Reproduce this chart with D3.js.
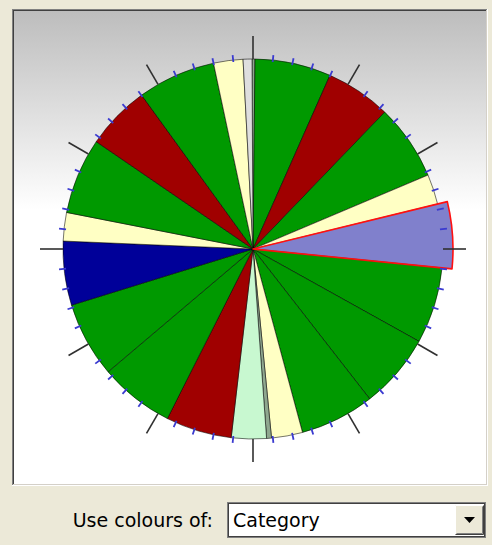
<!DOCTYPE html>
<html>
<head>
<meta charset="utf-8">
<script src="https://cdn.jsdelivr.net/npm/d3@7"></script>
<style>
  html, body { margin: 0; padding: 0; background: #ece9d8; }
  svg { display: block; }
</style>
</head>
<body>
<script>
(function(){

	//slice sizes in degrees, clockwise from just left of 12 o'clock
	var sliceValues = [0.9, 23.3, 20.0, 23.2, 9.2, 19.4, 23.4, 23.0, 22.8, 9.5, 1.5,
		10.7, 20.2, 22.9, 23.1, 19.6, 8.7, 23.3, 19.7, 23.9, 9.0, 2.7];
	//category of each slice
	var sliceCategories = ["F", "A", "B", "A", "C", "D", "A", "A", "A", "C", "F",
		"E", "B", "A", "A", "D", "C", "A", "B", "A", "C", "G"];
	var categories = ["A", "B", "C", "D", "E", "F", "G"];
	var categoryColours = ["#009900", "#a00000", "#ffffc4", "#000099", "#c8f8d0", "#8fa78f", "#dedede"];
	//the highlighted slice
	var selectedIndex = 5;
	var startDeg = -0.3;

	//ticks every 6 degrees, long ones every 30
	var majorTicks = d3.range(0, 360, 30);
	var minorTicks = d3.range(0, 360, 6).filter(function(a){ return a % 30 != 0; });

	var width = 492, height = 545;
	var cx = 253, cy = 249, radius = 190;

	var svg = d3.select("body")
		.append("svg")
		.attr("width", width)
		.attr("height", height);

	var defs = svg.append("defs");
	var grad = defs.append("linearGradient")
		.attr("id", "bg")
		.attr("x1", 0).attr("y1", 0).attr("x2", 0).attr("y2", 1);
	grad.append("stop").attr("offset", "0").attr("stop-color", "#bdbdbd");
	grad.append("stop").attr("offset", "0.42").attr("stop-color", "#ffffff");
	grad.append("stop").attr("offset", "1").attr("stop-color", "#ffffff");

	//sunken frame round the plot
	svg.append("rect").attr("x", 12).attr("y", 9).attr("width", 476).attr("height", 477)
		.attr("fill", "#ffffff");
	svg.append("rect").attr("x", 12).attr("y", 9).attr("width", 475).attr("height", 476)
		.attr("fill", "#808080");
	svg.append("rect").attr("x", 13).attr("y", 10).attr("width", 474).attr("height", 475)
		.attr("fill", "#d4d0c8");
	svg.append("rect").attr("x", 13).attr("y", 10).attr("width", 473).attr("height", 474)
		.attr("fill", "#404040");
	svg.append("rect").attr("x", 14).attr("y", 11).attr("width", 472).attr("height", 473)
		.attr("fill", "url(#bg)");

	var colour = d3.scaleOrdinal().domain(categories).range(categoryColours);
	var angle = d3.scaleLinear().domain([0, 360]).range([0, 2 * Math.PI]);

	var pie = d3.pie()
		.sort(null)
		.value(function(d){ return d; })
		.startAngle(angle(startDeg))
		.endAngle(angle(startDeg + 360));

	var arc = d3.arc().innerRadius(0).outerRadius(radius);
	var arcSelected = d3.arc().innerRadius(0).outerRadius(radius + 10);

	var g = svg.append("g").attr("transform", "translate(" + cx + "," + cy + ")");

	var slices = pie(sliceValues);

	g.selectAll(".slice")
		.data(slices)
		.enter()
		.append("path")
		.attr("class", "slice")
		.attr("d", function(d, i){ return i == selectedIndex ? arcSelected(d) : arc(d); })
		.attr("fill", function(d, i){
			var c = colour(sliceCategories[i]);
			//selected slice is drawn half-way to white
			return i == selectedIndex ? d3.interpolateRgb(c, "#ffffff")(0.5) : c;
		})
		.attr("stroke", function(d, i){ return i == selectedIndex ? "none" : "rgba(0,0,0,0.6)"; })
		.attr("stroke-width", 0.9)
		.attr("stroke-linejoin", "round");

	//red outline for the selected slice on top
	g.append("path")
		.attr("d", arcSelected(slices[selectedIndex]))
		.attr("fill", "none")
		.attr("stroke", "#ff1010")
		.attr("stroke-width", 1.6)
		.attr("stroke-linejoin", "round");

	function polar(deg, r){
		var a = angle(deg);
		return [Math.sin(a) * r, -Math.cos(a) * r];
	}

	g.selectAll(".minor")
		.data(minorTicks)
		.enter()
		.append("line")
		.attr("class", "minor")
		.attr("x1", function(d){ return polar(d, radius - 2)[0]; })
		.attr("y1", function(d){ return polar(d, radius - 2)[1]; })
		.attr("x2", function(d){ return polar(d, radius + 5)[0]; })
		.attr("y2", function(d){ return polar(d, radius + 5)[1]; })
		.attr("stroke", "#3a3ad0")
		.attr("stroke-width", 1.8);

	g.selectAll(".major")
		.data(majorTicks)
		.enter()
		.append("line")
		.attr("class", "major")
		.attr("x1", function(d){ return polar(d, radius)[0]; })
		.attr("y1", function(d){ return polar(d, radius)[1]; })
		.attr("x2", function(d){ return polar(d, radius + 23)[0]; })
		.attr("y2", function(d){ return polar(d, radius + 23)[1]; })
		.attr("stroke", "#303030")
		.attr("stroke-width", 1.6);

	//"Use colours of" combo box
	svg.append("text")
		.attr("x", 213)
		.attr("y", 527)
		.attr("text-anchor", "end")
		.style("font-family", "'DejaVu Sans', sans-serif")
		.style("font-size", "19px")
		.attr("fill", "#000")
		.text("Use colours of:");

	var box = svg.append("g");
	box.append("rect").attr("x", 227).attr("y", 502).attr("width", 259).attr("height", 36).attr("fill", "#ffffff");
	box.append("rect").attr("x", 227.5).attr("y", 502.5).attr("width", 258).attr("height", 35)
		.attr("fill", "none").attr("stroke", "#808080");
	box.append("rect").attr("x", 228.5).attr("y", 503.5).attr("width", 256).attr("height", 33)
		.attr("fill", "none").attr("stroke", "#404040");
	box.append("text")
		.attr("x", 233)
		.attr("y", 527)
		.style("font-family", "'DejaVu Sans', sans-serif")
		.style("font-size", "19px")
		.attr("fill", "#000")
		.text("Category");

	//drop-down button
	box.append("rect").attr("x", 455).attr("y", 505).attr("width", 29).attr("height", 30).attr("fill", "#ece9d8");
	box.append("path").attr("d", "M455.5,534.5V505.5H483.5").attr("fill", "none").attr("stroke", "#ffffff");
	box.append("path").attr("d", "M455.5,534.5H483.5V505.5").attr("fill", "none").attr("stroke", "#404040");
	box.append("path").attr("d", "M456.5,533.5H482.5V506.5").attr("fill", "none").attr("stroke", "#808080");
	box.append("path").attr("d", "M464,517H475L469.5,523Z").attr("fill", "#000");

})();
</script>
</body>
</html>
